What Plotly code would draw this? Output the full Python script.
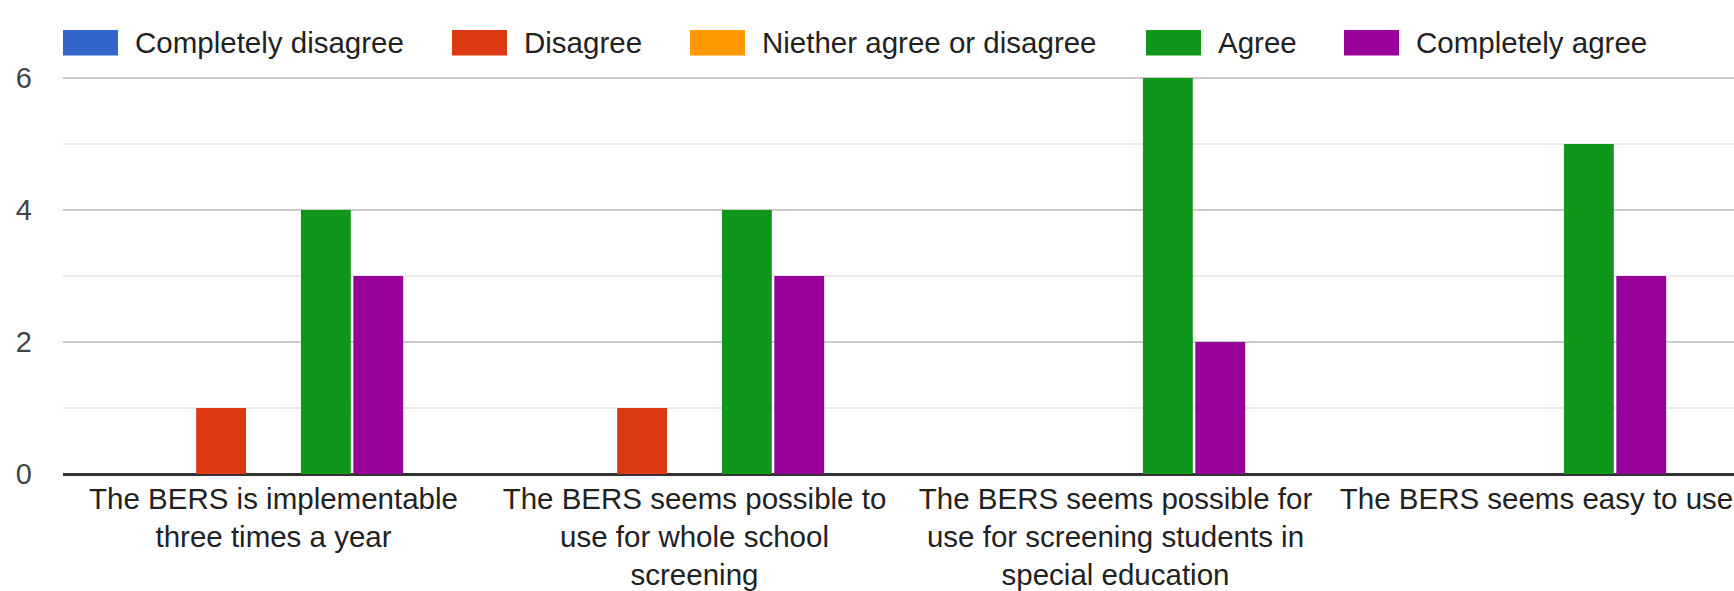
import plotly.graph_objects as go

# ---- data ----
categories = [
    "The BERS is implementable<br>three times a year",
    "The BERS seems possible to<br>use for whole school<br>screening",
    "The BERS seems possible for<br>use for screening students in<br>special education",
    "The BERS seems easy to use",
]
series_names = ["Completely disagree", "Disagree", "Niether agree or disagree", "Agree", "Completely agree"]
completely_disagree = [0, 0, 0, 0]
disagree = [1, 1, 0, 0]
neither = [0, 0, 0, 0]
agree = [4, 4, 6, 5]
completely_agree = [3, 3, 2, 3]
y_ticks = [0, 2, 4, 6]

series_values = [completely_disagree, disagree, neither, agree, completely_agree]
colors = ["#3366cc", "#dc3912", "#ff9900", "#109618", "#990099"]

W, H = 1734, 591
ML, MT, MB = 63, 12, 117
PW = W - ML
PH = H - MT - MB
CAT_PX = 421

fig = go.Figure()
for name, vals, col in zip(series_names, series_values, colors):
    fig.add_trace(go.Bar(
        x=list(range(len(categories))), y=vals, name=name,
        marker=dict(color=col, line=dict(width=0)),
        showlegend=False,
    ))

# legend drawn manually (wide Google-Charts style swatches)
def px_x(p):
    return (p - ML) / PW

def px_y(p):
    return (H - MB - p) / PH

sw_left = [63, 452, 690, 1146, 1344]
shapes = []
annotations = []
for name, col, xl in zip(series_names, colors, sw_left):
    shapes.append(dict(type="rect", xref="paper", yref="paper",
                       x0=px_x(xl), x1=px_x(xl + 55), y0=px_y(55.5), y1=px_y(30),
                       fillcolor=col, line=dict(width=0), layer="above"))
    annotations.append(dict(xref="paper", yref="paper", x=px_x(xl + 70), y=px_y(42.5),
                            text=name, showarrow=False, xanchor="left", yanchor="middle",
                            font=dict(size=29.5, color="#222222",
                                      family="Liberation Sans, Arial, sans-serif")))

fig.update_layout(
    width=W, height=H,
    margin=dict(l=ML, r=0, t=MT, b=MB, pad=0, autoexpand=False),
    paper_bgcolor="white", plot_bgcolor="white",
    barmode="group", bargap=0.378, bargroupgap=0.048,
    font=dict(family="Liberation Sans, Arial, sans-serif", color="#222222"),
    shapes=shapes, annotations=annotations,
    showlegend=False,
)
fig.update_xaxes(
    range=[-0.5, -0.5 + PW / CAT_PX],
    tickmode="array", tickvals=list(range(len(categories))), ticktext=categories,
    tickfont=dict(size=29.5, color="#222222"),
    showgrid=False, showline=False, zeroline=False, ticks="", tickangle=0,
    ticklabeloverflow="allow", ticklabelstandoff=4, automargin=False,
    fixedrange=True,
)
fig.update_yaxes(
    range=[0, 7], tickmode="array", tickvals=y_ticks,
    tickfont=dict(size=29, color="#444444"),
    showgrid=True, gridcolor="#cccccc", gridwidth=2,
    minor=dict(tickmode="linear", tick0=0, dtick=1, showgrid=True, gridcolor="#ebebeb", gridwidth=2),
    zeroline=True, zerolinecolor="#333333", zerolinewidth=2.5,
    showline=False, ticks="", ticklabelstandoff=30, automargin=False,
)

fig.write_html("out.html")
